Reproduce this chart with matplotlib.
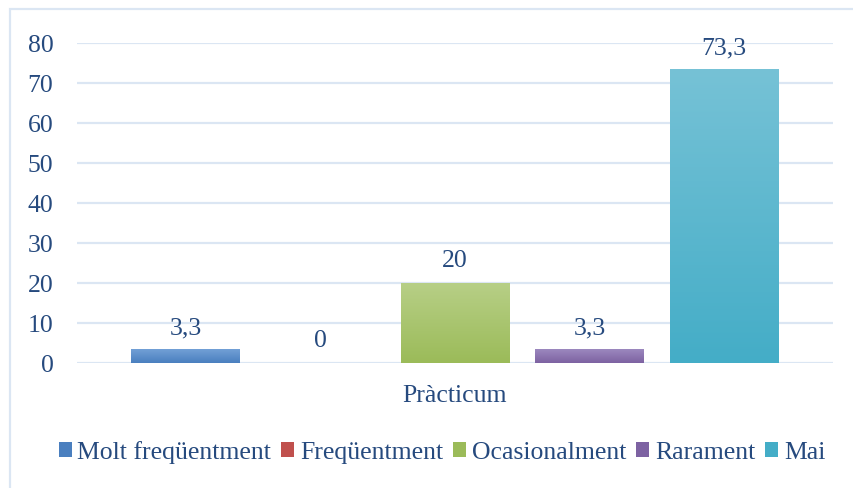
import matplotlib.pyplot as plt
import matplotlib.colors as mcolors
import numpy as np

categories = ['Pràcticum']
series = ['Molt freqüentment', 'Freqüentment', 'Ocasionalment', 'Rarament', 'Mai']
values = [3.3, 0, 20, 3.3, 73.3]
labels = ['3,3', '0', '20', '3,3', '73,3']
yticks = [0, 10, 20, 30, 40, 50, 60, 70, 80]

# (top, bottom) gradient colours per series
grads = [('#72a0d6', '#4a7fbf'),
         ('#d6716e', '#c0504d'),
         ('#b7cf86', '#9bbb59'),
         ('#9c88be', '#7d62a2'),
         ('#76c2d6', '#44adc7')]

txt_color = '#264a7e'
grid_color = '#dbe6f3'
plt.rcParams['font.family'] = ['Liberation Serif', 'DejaVu Serif']
FS = 18.5

fig = plt.figure(figsize=(8.54, 4.89), dpi=100)
ax = fig.add_axes([77/854, 1 - 364/489, (833 - 77)/854, (364 - 44)/489])

pitch = 0.178
width = 0.144
n = len(series)
for i, (name, v, lab, (c_top, c_bot)) in enumerate(zip(series, values, labels, grads)):
    xc = 0 + (i - (n - 1)/2) * pitch
    x0, x1 = xc - width/2, xc + width/2
    if v > 0:
        cmap = mcolors.LinearSegmentedColormap.from_list('g%d' % i, [c_bot, c_top])
        grad = np.linspace(0, 1, 100).reshape(-1, 1)
        ax.imshow(grad, extent=(x0, x1, 0, v), origin='lower', cmap=cmap,
                  aspect='auto', zorder=3, interpolation='bilinear')
    ax.annotate(lab, (xc, v), xytext=(0, 12), textcoords='offset points',
                ha='center', va='baseline', fontsize=FS, color=txt_color,
                annotation_clip=False, zorder=4)

ax.set_xlim(-0.5, 0.5)
ax.set_ylim(0, 80)
ax.set_yticks(yticks)
ax.set_xticks([0])
ax.set_xticklabels(categories)
ax.yaxis.grid(True, color=grid_color, linewidth=1.6, zorder=0)
ax.set_axisbelow(True)
for s in ax.spines.values():
    s.set_visible(False)
ax.tick_params(axis='y', length=0, pad=17, labelsize=FS, labelcolor=txt_color)
ax.tick_params(axis='x', length=0, pad=15, labelsize=FS, labelcolor=txt_color)
for t in ax.get_yticklabels():
    t.set_clip_on(False)

# legend
handles = []
for (c_top, c_bot), name in zip(grads, series):
    handles.append(plt.Rectangle((0, 0), 1, 1, facecolor=c_bot, edgecolor='none'))
leg = fig.legend(handles, series, loc='center', bbox_to_anchor=(442/854, 1 - 453/489),
                 ncol=5, frameon=False, fontsize=FS, handlelength=0.5, handleheight=0.5,
                 handletextpad=0.22, columnspacing=0.4, borderaxespad=0)
for t in leg.get_texts():
    t.set_color(txt_color)

# outer chart border
fig.add_artist(plt.Rectangle((10/854, -0.1), 1.2, 1 - 10/489 + 0.1,
                             transform=fig.transFigure, fill=False,
                             edgecolor=grid_color, linewidth=1.6))

fig.savefig('out.png', dpi=100)
